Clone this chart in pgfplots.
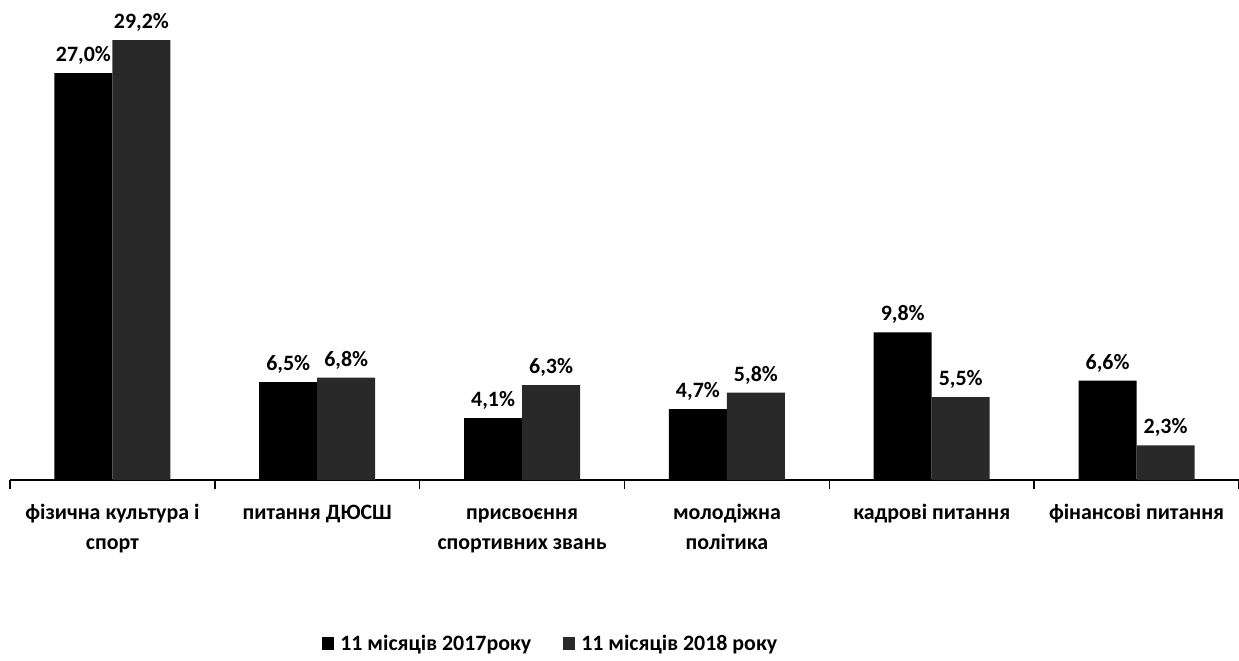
\documentclass[border=0pt]{standalone}
\usepackage{fontspec}
\setmainfont{Carlito}
\usepackage{pgfplots}
\pgfplotsset{compat=1.18}
\begin{document}
\begin{tikzpicture}
\begin{axis}[
  at={(0,0)}, anchor=south west,
  scale only axis, width=1229bp, height=452bp,
  xmin=-0.5, xmax=5.5, ymin=0, ymax=30,
  ybar=0pt, bar width=58bp,
  axis y line=none,
  axis x line*=bottom,
  x axis line style={-, line width=1.4bp},
  xtick={0,1,2,3,4,5},
  xticklabels={{фізична культура і\\спорт},{питання ДЮСШ},{присвоєння\\спортивних звань},{молодіжна\\політика},{кадрові питання},{фінансові питання}},
  typeset ticklabels with strut,
  major tick length=0pt,
  minor xtick={-0.5,0.5,1.5,2.5,3.5,4.5,5.5},
  minor tick length=9bp,
  tick align=outside,
  minor x tick style={line width=1.4bp, black},
  ytick=\empty,
  xticklabel style={font=\bfseries\fontsize{22}{30}\selectfont, align=center, yshift=-15bp},
  nodes near coords={\pgfmathprintnumber[fixed,fixed zerofill,precision=1,use comma,assume math mode=true]{\pgfplotspointmeta}\%},
  every node near coord/.append style={font=\bfseries\fontsize{22}{26}\selectfont, anchor=south, yshift=5bp, black},
  legend columns=2,
  legend style={draw=none, at={(0.440,-0.361)}, anchor=center, font=\bfseries\fontsize{22}{26}\selectfont,
    /tikz/every odd column/.append style={column sep=4bp},
    /tikz/every even column/.append style={column sep=30bp}},
]
\addplot[fill=black, draw=none, legend image code/.code={\fill[black] (0bp,-6.5bp) rectangle (12bp,6.5bp);}]
  coordinates {(0,27.0) (1,6.5) (2,4.1) (3,4.7) (4,9.8) (5,6.6)};
\addlegendentry{11 місяців 2017року}
\addplot[fill=black!84, draw=none, legend image code/.code={\fill[black!84] (0bp,-6.5bp) rectangle (12bp,6.5bp);}]
  coordinates {(0,29.2) (1,6.8) (2,6.3) (3,5.8) (4,5.5) (5,2.3)};
\addlegendentry{11 місяців 2018 року}
\end{axis}
\pgfresetboundingbox
\path[use as bounding box] (-10bp,-181bp) rectangle (1229bp,480bp);
\end{tikzpicture}
\end{document}
